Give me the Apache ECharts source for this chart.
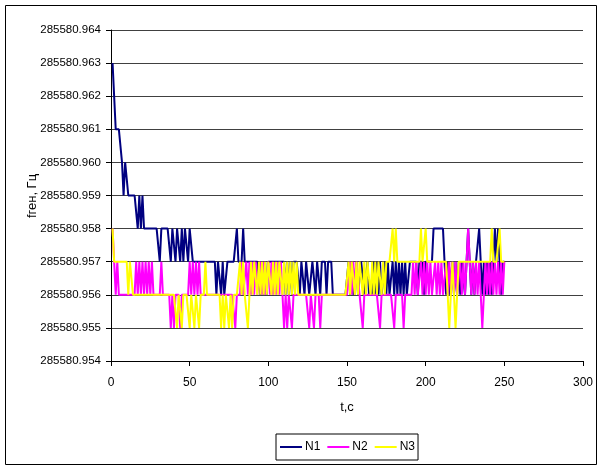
<!DOCTYPE html>
<html>
<head>
<meta charset="utf-8">
<script src="https://cdn.jsdelivr.net/npm/echarts@6/dist/echarts.min.js"></script>
<style>
html,body{margin:0;padding:0;background:#fff;}
#chart{width:598px;height:466px;}
</style>
</head>
<body>
<div id="chart"></div>
<script>
// Frequency values: 285580 Hz + value/1000 (values in mHz fraction)
const BASE_HZ = 285580;
const seriesNames = ['N1', 'N2', 'N3'];
const yTickLabels = ['285580.954','285580.955','285580.956','285580.957','285580.958','285580.959','285580.960','285580.961','285580.962','285580.963','285580.964'];
const xTickLabels = ['0','50','100','150','200','250','300'];

const N1 = [
963,962,961,961,961,961,960,959,960,960,
959,959,959,959,959,959,958,959,958,959,
958,958,958,958,958,958,958,958,958,958,
957,958,958,958,958,958,958,957,958,958,
957,958,958,957,958,957,958,958,957,958,
958,957,957,957,957,957,957,957,957,957,
957,957,957,957,957,957,956,957,957,956,
957,956,956,957,957,957,957,957,957,958,
957,957,957,958,957,957,957,957,957,957,
957,957,957,957,956,957,956,957,956,957,
957,957,957,957,957,957,957,957,957,957,
956,957,956,957,956,957,957,957,957,956,
957,957,956,957,957,956,956,957,957,956,
957,957,956,957,957,957,956,957,957,957,
956,956,956,956,956,956,956,956,956,956,
957,956,957,956,956,957,956,956,957,957,
956,956,957,956,956,956,957,956,957,956,
957,956,956,957,956,957,956,956,957,956,
957,956,957,956,957,956,957,956,956,957,
957,957,957,957,956,957,957,957,956,957,
957,957,957,957,958,958,958,958,958,958,
958,957,956,957,956,956,957,956,957,956,
957,956,957,957,956,957,958,957,956,957,
956,957,957,958,957,956,957,956,957,956,
957,956,957,958,957,958,957,956,957,957
];
const N2 = [
958,957,956,957,956,956,956,956,956,956,
956,956,956,956,956,957,956,957,956,957,
956,957,956,957,956,957,956,956,956,956,
956,957,956,956,956,956,956,955,956,955,
956,956,956,955,956,956,956,956,956,957,
956,957,956,957,956,957,956,956,956,956,
956,956,956,956,956,956,956,956,956,956,
956,956,956,956,956,956,956,956,955,956,
956,956,957,956,956,957,956,957,956,957,
956,957,956,956,957,956,957,956,956,957,
956,957,956,957,956,957,956,957,956,955,
956,955,956,956,955,956,956,956,956,956,
956,956,956,956,956,955,956,956,955,956,
956,956,955,956,956,956,956,956,956,956,
956,956,956,956,956,956,956,956,956,956,
956,957,956,957,956,957,957,956,956,955,
956,956,956,956,956,956,956,956,956,956,
955,956,956,956,956,956,956,956,956,955,
956,956,956,956,956,955,956,956,956,956,
956,957,956,957,956,956,957,956,957,956,
957,956,957,956,956,957,956,957,956,957,
956,956,957,956,957,956,957,956,957,956,
956,957,956,957,956,957,958,957,956,957,
956,957,956,957,956,955,956,957,956,957,
956,957,956,957,956,957,956,957,956,957
];
const N3 = [
958,957,957,957,957,957,957,957,957,957,
956,957,957,956,956,956,956,956,956,956,
956,956,956,956,956,956,956,956,956,956,
956,956,956,956,956,956,956,956,956,956,
956,955,956,956,955,956,956,956,956,955,
956,956,955,956,956,955,956,956,956,957,
956,956,956,956,956,956,956,956,956,955,
956,955,956,956,955,956,955,956,956,956,
956,957,956,957,956,956,955,956,957,956,
957,957,956,957,956,957,956,957,956,957,
957,956,957,956,957,956,957,957,956,957,
956,957,956,957,956,957,956,957,956,956,
956,956,956,956,956,956,956,956,956,956,
956,956,956,956,956,956,956,956,956,956,
956,956,956,956,956,956,956,956,956,956,
957,956,957,957,956,957,956,957,957,956,
957,956,957,957,956,957,956,957,956,957,
957,956,957,956,957,957,957,957,958,957,
958,957,957,957,957,957,957,957,957,957,
957,957,957,957,957,957,958,957,957,958,
957,957,957,957,957,957,957,957,957,957,
957,957,957,956,955,956,957,956,955,956,
957,957,957,957,957,957,957,957,957,957,
957,957,957,957,957,957,957,957,957,957,
957,958,957,957,957,957,958,957,957,957
];

const toPoints = arr => arr.map((v, i) => [i + 1, BASE_HZ + v / 1000]);
const colors = ['#000080', '#FF00FF', '#FFFF00'];
const FONT = 'Liberation Sans, Arial, sans-serif';

const chart = echarts.init(document.getElementById('chart'), null, {renderer: 'canvas'});
chart.setOption({
  animation: false,
  backgroundColor: '#ffffff',
  grid: {left: 111, right: 15, top: 30, bottom: 105, containLabel: false},
  xAxis: {
    type: 'value', min: 0, max: 300, interval: 50,
    axisLine: {show: true, lineStyle: {color: '#000', width: 1}},
    axisTick: {show: true, length: 5, inside: false, lineStyle: {color: '#000'}},
    axisLabel: {color: '#000', fontFamily: FONT, fontSize: 12, margin: 16,
      formatter: (v) => { const i = xTickLabels.indexOf(String(v)); return i >= 0 ? xTickLabels[i] : ''; }},
    splitLine: {show: false}
  },
  yAxis: {
    type: 'value', min: 285580.954, max: 285580.964, interval: 0.001,
    axisLine: {show: true, lineStyle: {color: '#000', width: 1}},
    axisTick: {show: true, length: 5, inside: false, lineStyle: {color: '#000'}},
    axisLabel: {color: '#000', fontFamily: FONT, fontSize: 11.5, margin: 10,
      formatter: (v) => { const i = Math.round((v - 285580.954) * 1000); return yTickLabels[i] || ''; }},
    splitLine: {show: true, lineStyle: {color: '#404040', width: 1}}
  },
  legend: {
    data: seriesNames,
    left: 276, top: 434,
    itemWidth: 22, itemHeight: 2, itemGap: 7,
    icon: 'rect',
    padding: [7, 3, 7, 4],
    borderColor: '#000', borderWidth: 1,
    textStyle: {color: '#000', fontFamily: FONT, fontSize: 12, padding: [0, 0, 0, -2]}
  },
  graphic: [
    {type: 'rect', shape: {x: 5.5, y: 5.5, width: 591, height: 459}, style: {fill: 'none', stroke: '#000', lineWidth: 1}, z: 100, silent: true},
    {type: 'text', x: 32, y: 196, rotation: Math.PI / 2,
      style: {text: 'fген, Гц', fill: '#000', font: '13px ' + FONT, align: 'center', verticalAlign: 'middle'}},
    {type: 'text', x: 347, y: 407,
      style: {text: 't,c', fill: '#000', font: '13px ' + FONT, align: 'center', verticalAlign: 'middle'}}
  ],
  series: [N1, N2, N3].map((arr, k) => ({
    name: seriesNames[k], type: 'line', data: toPoints(arr),
    symbol: 'none', showSymbol: false,
    lineStyle: {color: colors[k], width: 2},
    itemStyle: {color: colors[k]},
    z: 2 + k
  }))
});
</script>
</body>
</html>
